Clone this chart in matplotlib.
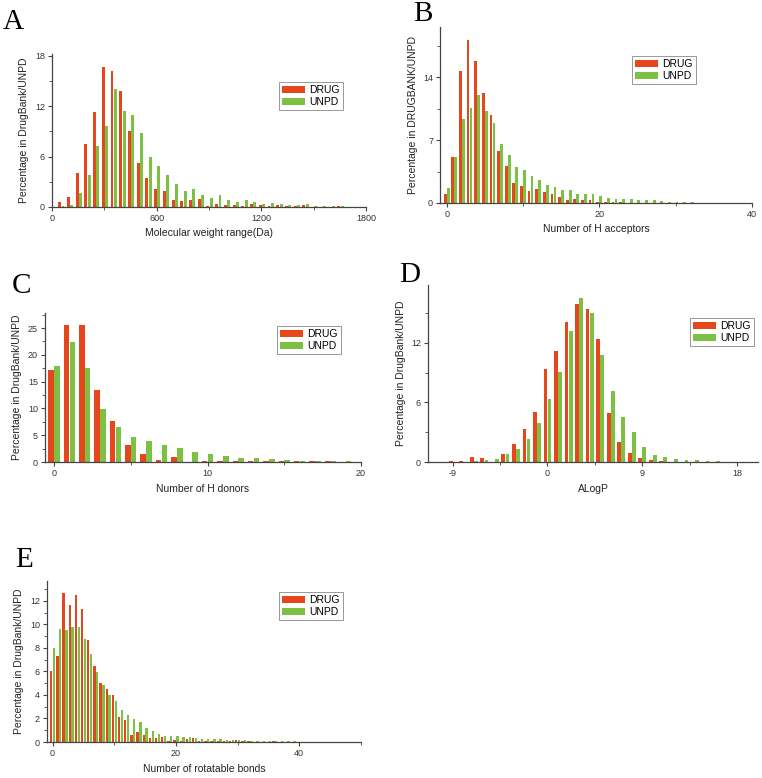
import matplotlib
matplotlib.use('Agg')
import matplotlib.pyplot as plt
from matplotlib.ticker import MultipleLocator

plt.rcParams['font.family'] = ['Liberation Sans', 'DejaVu Sans']
plt.rcParams['axes.unicode_minus'] = False

RED = '#e6461b'
GREEN = '#7cc143'

# A: molecular weight, bins of 50 Da
mw_bins = [50 * i for i in range(1, 35)]
mw_drug = [0.55, 1.2, 4.1, 7.5, 11.3, 16.7, 16.2, 13.8, 9.1, 5.2, 3.5, 2.2, 1.85,
           0.8, 0.7, 0.8, 0.9, 0.1, 0.4, 0.2, 0.25, 0.15, 0.35, 0.2, 0.15, 0.25,
           0.1, 0.1, 0.25, 0.05, 0.05, 0.05, 0.1, 0.0]
mw_unpd = [0.15, 0.2, 1.65, 3.85, 7.3, 9.6, 14.0, 11.4, 11.0, 8.8, 5.9, 4.9, 3.8,
           2.75, 1.95, 2.1, 1.4, 1.1, 1.4, 0.85, 0.6, 0.8, 0.6, 0.35, 0.5, 0.35,
           0.25, 0.25, 0.3, 0.1, 0.1, 0.1, 0.1, 0.05]

# B: H acceptors
hba_bins = list(range(0, 36))
hba_drug = [1.05, 5.1, 14.7, 18.2, 15.8, 12.2, 9.75, 5.75, 4.1, 2.2, 1.85, 1.3,
            1.6, 1.2, 1.0, 0.7, 0.35, 0.4, 0.35, 0.3, 0.1, 0.1, 0.1, 0.15, 0.05,
            0.05, 0.05, 0.03, 0.03, 0.03, 0.02, 0.02, 0.02, 0.01, 0.01, 0.01]
hba_unpd = [1.65, 5.1, 9.3, 10.6, 12.0, 10.2, 8.9, 6.6, 5.4, 4.0, 3.7, 3.05, 2.6,
            2.0, 1.8, 1.5, 1.4, 1.0, 0.97, 0.95, 0.8, 0.55, 0.5, 0.45, 0.4, 0.35,
            0.35, 0.3, 0.2, 0.15, 0.15, 0.1, 0.08, 0.05, 0.05, 0.03]

# C: H donors
hbd_bins = list(range(0, 20))
hbd_drug = [17.1, 25.6, 25.5, 13.5, 7.7, 3.2, 1.5, 0.45, 1.0, 0.05, 0.25, 0.25,
            0.15, 0.25, 0.15, 0.1, 0.25, 0.1, 0.1, 0.05]
hbd_unpd = [18.0, 22.4, 17.6, 9.9, 6.5, 4.6, 3.85, 3.1, 2.6, 1.85, 1.5, 1.1,
            0.8, 0.7, 0.55, 0.35, 0.25, 0.15, 0.1, 0.1]

# D: ALogP
logp_bins = list(range(-9, 18))
logp_drug = [0.13, 0.13, 0.55, 0.37, 0.05, 0.85, 1.85, 3.35, 5.0, 9.35, 11.15,
             14.05, 15.85, 15.35, 12.35, 4.9, 2.0, 0.95, 0.45, 0.25, 0.1, 0.05,
             0.05, 0.03, 0.03, 0.02, 0.02]
logp_unpd = [0.03, 0.05, 0.07, 0.25, 0.35, 0.85, 1.3, 2.3, 3.95, 6.3, 9.1, 13.2,
             16.45, 15.0, 10.8, 7.1, 4.55, 3.05, 1.5, 0.75, 0.55, 0.35, 0.25, 0.2,
             0.15, 0.08, 0.03]

# E: rotatable bonds
rot_bins = list(range(0, 41))
rot_drug = [6.0, 7.3, 12.7, 11.65, 12.5, 11.3, 8.7, 6.5, 5.05, 4.55, 4.0, 2.1, 1.9,
            0.62, 0.85, 0.62, 0.35, 0.35, 0.4, 0.05, 0.15, 0.05, 0.25, 0.33, 0.05,
            0.05, 0.1, 0.05, 0.05, 0.1, 0.2, 0.1, 0.05, 0.03, 0.03, 0.03, 0.1,
            0.02, 0.02, 0.02, 0.02]
rot_unpd = [8.0, 9.6, 9.55, 9.8, 9.8, 8.8, 7.45, 5.95, 4.85, 4.0, 3.5, 2.75, 2.3,
            1.97, 1.67, 1.2, 0.9, 0.7, 0.55, 0.5, 0.48, 0.4, 0.4, 0.3, 0.28, 0.28,
            0.25, 0.22, 0.2, 0.17, 0.15, 0.13, 0.12, 0.1, 0.1, 0.08, 0.07, 0.06,
            0.05, 0.05, 0.04]

W, H = 762, 778
fig = plt.figure(figsize=(W / 100, H / 100), dpi=100)


def rect(l, t, r, b):
    return [l / W, 1 - b / H, (r - l) / W, (b - t) / H]


def panel(box, letter, letter_xy, bins, drug, unpd, offs, width, xlim, ylim,
          xmaj, xmin, ymaj, ymin, xlabel, ylabel, leg_xy):
    ax = fig.add_axes(rect(*box))
    ax.bar([b + offs[0] for b in bins], drug, width, color=RED, label='DRUG',
           linewidth=0)
    ax.bar([b + offs[1] for b in bins], unpd, width, color=GREEN, label='UNPD',
           linewidth=0)
    ax.set_xlim(*xlim)
    ax.set_ylim(*ylim)
    ax.xaxis.set_major_locator(MultipleLocator(xmaj))
    ax.xaxis.set_minor_locator(MultipleLocator(xmin))
    ax.yaxis.set_major_locator(MultipleLocator(ymaj))
    ax.yaxis.set_minor_locator(MultipleLocator(ymin))
    for s in ['top', 'right']:
        ax.spines[s].set_visible(False)
    for s in ['left', 'bottom']:
        ax.spines[s].set_color('#444444')
        ax.spines[s].set_linewidth(0.9)
    ax.tick_params(which='major', direction='out', length=3, width=0.8,
                   colors='#444444', labelsize=6.5, labelcolor='#333333', pad=2)
    ax.tick_params(which='minor', direction='out', length=2, width=0.6,
                   colors='#444444')
    ax.set_xlabel(xlabel, fontsize=7.5, color='#222222', labelpad=4)
    ax.set_ylabel(ylabel, fontsize=7.5, color='#222222', labelpad=4)
    ax.legend(loc='upper left', bbox_to_anchor=(leg_xy[0] / W, 1 - leg_xy[1] / H),
              bbox_transform=fig.transFigure, fontsize=7.5, frameon=True,
              fancybox=False, edgecolor='#888888', framealpha=1,
              handlelength=2.2, handleheight=0.75, handletextpad=0.4,
              borderpad=0.3, labelspacing=0.2, borderaxespad=0)
    ax.legend_.get_frame().set_linewidth(0.6)
    fig.text(letter_xy[0] / W, 1 - letter_xy[1] / H, letter, fontsize=21,
             family=['Liberation Serif', 'DejaVu Serif'], va='top', ha='left')
    return ax


panel((52, 54, 366, 207), 'A', (3, 9), mw_bins, mw_drug, mw_unpd, (-6, 13), 17,
      (0, 1800), (0, 18.2), 600, 300, 6, 3,
      'Molecular weight range(Da)', 'Percentage in DrugBank/UNPD', (279, 82))

panel((440, 27, 752, 203), 'B', (413, 1), hba_bins, hba_drug, hba_unpd,
      (-0.22, 0.17), 0.36, (-0.9, 40), (0, 19.6), 20, 10, 7, 3.5,
      'Number of H acceptors', 'Percentage in DRUGBANK/UNPD', (632, 56))

panel((45, 313, 361, 462), 'C', (12, 273), hbd_bins, hbd_drug, hbd_unpd,
      (-0.19, 0.19), 0.36, (-0.59, 20), (0, 27.8), 10, 5, 5, 2.5,
      'Number of H donors', 'Percentage in DrugBank/UNPD', (277, 326))

panel((428, 285, 758, 462), 'D', (399, 262), logp_bins, logp_drug, logp_unpd,
      (-0.19, 0.2), 0.36, (-11.35, 20), (0, 17.8), 9, 4.5, 6, 3,
      'ALogP', 'Percentage in DrugBank/UNPD', (690, 318))

panel((47, 581, 361, 742), 'E', (15, 547), rot_bins, rot_drug, rot_unpd,
      (-0.21, 0.24), 0.38, (-0.9, 50), (0, 13.7), 20, 10, 2, 1,
      'Number of rotatable bonds', 'Percentage in DrugBank/UNPD', (279, 592))

fig.savefig('out.png', dpi=100)
